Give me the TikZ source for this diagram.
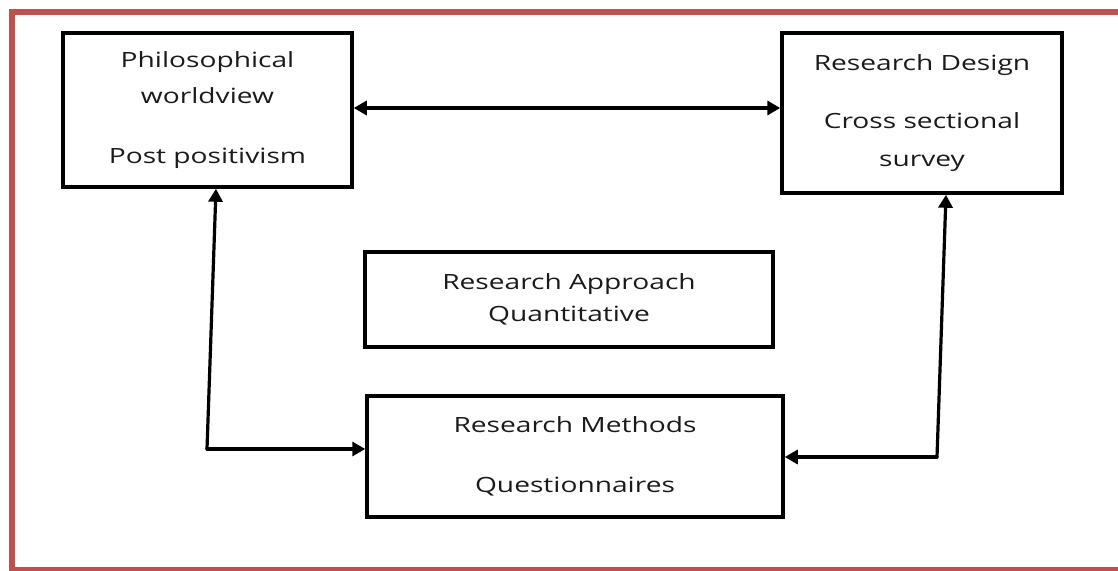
\documentclass[tikz,border=0pt]{standalone}
\usepackage{fontspec}
\setmainfont{Open Sans}[FakeStretch=1.34]
\usetikzlibrary{arrows.meta}
\definecolor{framered}{HTML}{C0504D}
\definecolor{txtgray}{HTML}{1A1A1A}
\tikzset{
  box/.style={draw=black, line width=3.5pt, inner sep=0pt, align=center,
    text=txtgray, font=\fontsize{21}{36}\selectfont},
  link/.style={line width=3.2pt, line cap=round, line join=round,
    -{Triangle[width=14pt,length=13pt]}},
  biglink/.style={line width=3.2pt,
    {Triangle[width=14pt,length=13pt]}-{Triangle[width=14pt,length=13pt]}}
}
\begin{document}
\begin{tikzpicture}[x=1pt,y=-1pt]
\useasboundingbox (0,0) rectangle (1118,570);
% outer frame
\draw[framered, line width=6pt] (1130,12) -- (12,12) -- (12,570) -- (1130,570);

% boxes
\node[box, minimum width=289pt, minimum height=154pt] (phil) at (207.5,110)
  {Philosophical\\worldview\\[24pt]Post positivism};
\node[box, minimum width=280pt, minimum height=160pt] (design) at (922,113)
  {Research Design\\[22pt]Cross sectional\\[2pt]survey};
\node[box, minimum width=408pt, minimum height=95pt] (approach) at (569,299.5)
  {Research Approach\\[-4pt]Quantitative};
\node[box, minimum width=416pt, minimum height=121pt] (methods) at (575,456.5)
  {Research Methods\\[24pt]Questionnaires};

% corner points of the side connectors
\coordinate (lc) at (207,449);
\coordinate (rc) at (937,457);

% connectors
\draw[biglink] (phil.east |- 0,108) -- (design.west |- 0,108);
\draw[link] (lc) -- (methods.west |- lc);
\draw[link] (lc) -- (216,0 |- phil.south);
\draw[link] (rc) -- (methods.east |- rc);
\draw[link] (rc) -- (946,0 |- design.south);
\end{tikzpicture}
\end{document}
